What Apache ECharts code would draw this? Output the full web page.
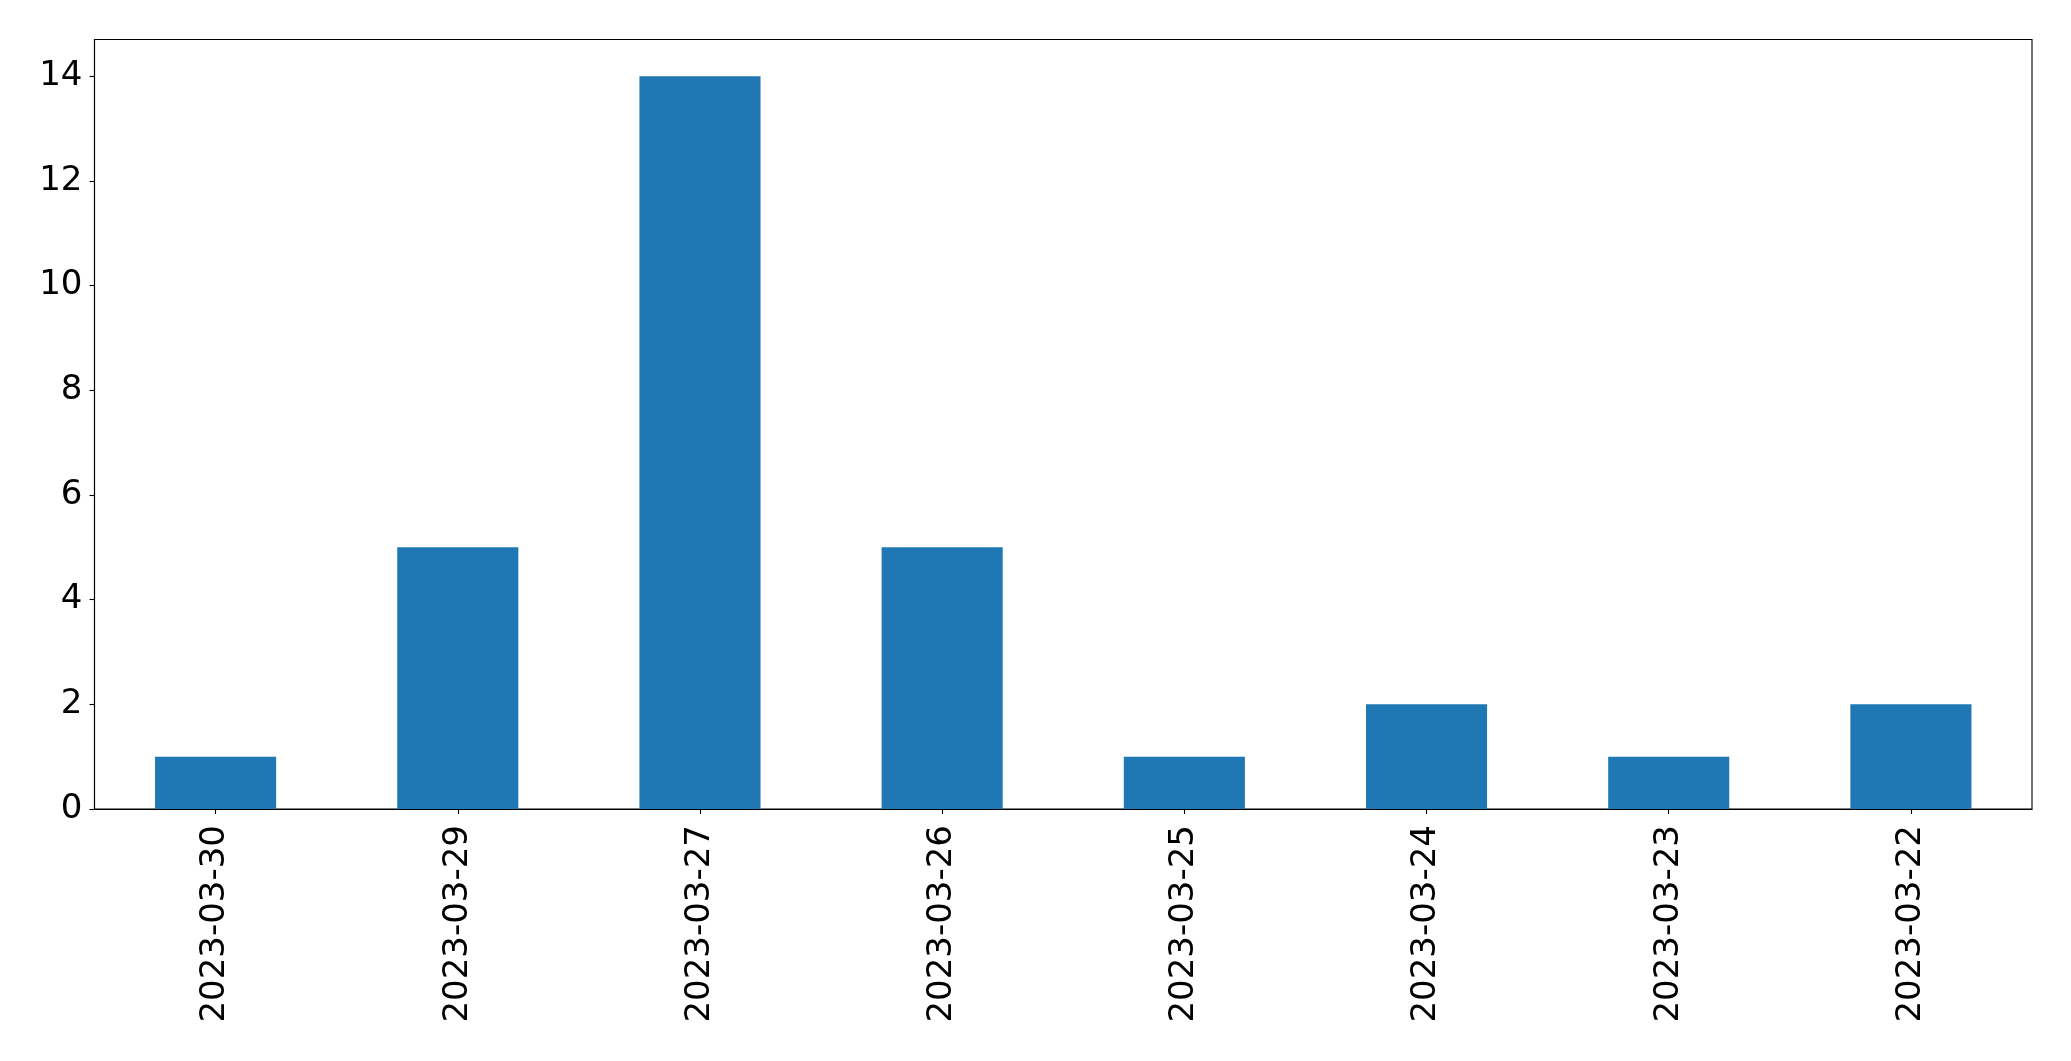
<!DOCTYPE html>
<html>
<head>
<meta charset="utf-8">
<script src="https://cdn.jsdelivr.net/npm/echarts@6/dist/echarts.min.js"></script>
<style>html,body{margin:0;padding:0;background:#fff}#c{width:2071px;height:1061px}</style>
</head>
<body>
<div id="c"></div>
<script>
const categories = ["2023-03-30","2023-03-29","2023-03-27","2023-03-26","2023-03-25","2023-03-24","2023-03-23","2023-03-22"];
const values = [1,5,14,5,1,2,1,2];
const yTicks = [0,2,4,6,8,10,12,14];

const chart = echarts.init(document.getElementById('c'), null, {renderer:'canvas'});
const font = 'DejaVu Sans';
chart.setOption({
  animation: false,
  backgroundColor: '#ffffff',
  grid: {left: 94.5, right: 39, top: 39.5, bottom: 252, show: true, borderColor: '#000', borderWidth: 1.1, containLabel: false},
  xAxis: {
    type: 'category',
    data: categories,
    boundaryGap: true,
    axisLine: {show: true, lineStyle: {color: '#000', width: 1.1}},
    axisTick: {show: true, alignWithLabel: true, length: 5, lineStyle: {color: '#000', width: 1.1}},
    axisLabel: {rotate: 90, margin: 16, fontFamily: font, fontSize: 34, color: '#000'},
    splitLine: {show: false}
  },
  yAxis: {
    type: 'value',
    min: 0, max: 14.7, interval: 2,
    axisLine: {show: true, lineStyle: {color: '#000', width: 1.1}},
    axisTick: {show: true, length: 5, lineStyle: {color: '#000', width: 1.1}},
    axisLabel: {margin: 12, fontFamily: font, fontSize: 34, color: '#000', showMaxLabel: false,
      formatter: v => yTicks.includes(v) ? String(v) : ''},
    splitLine: {show: false}
  },
  series: [{
    type: 'bar',
    data: values,
    barCategoryGap: '50%',
    itemStyle: {color: '#1f77b4'}
  }]
});
</script>
</body>
</html>
